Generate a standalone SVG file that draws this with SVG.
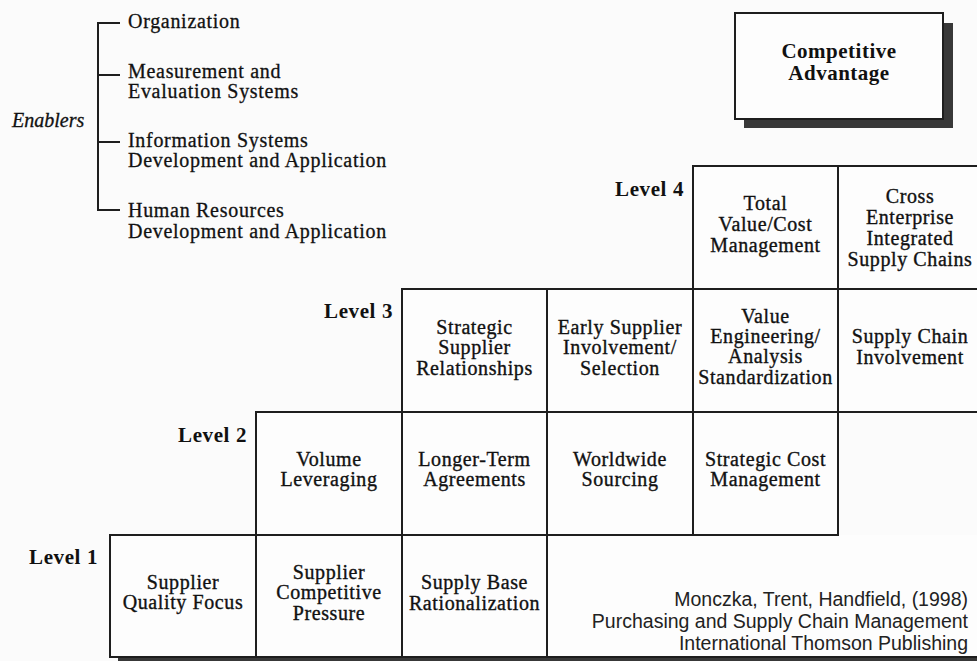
<svg xmlns="http://www.w3.org/2000/svg" width="977" height="661" viewBox="0 0 977 661">
<style>
.bg{fill:#fbfbfb}
.ln{stroke:#1e1e1e;stroke-width:2;fill:none}
.cell{fill:#fdfdfd;stroke:#1e1e1e;stroke-width:2}
.t{font-family:"Liberation Serif","Times New Roman",serif;font-size:20px;fill:#111;stroke:#111;stroke-width:0.35px;letter-spacing:0.6px;text-anchor:middle}
.en{font-family:"Liberation Serif","Times New Roman",serif;font-size:20px;fill:#111;stroke:#111;stroke-width:0.3px;letter-spacing:0.7px}
.it{font-family:"Liberation Serif","Times New Roman",serif;font-size:20px;font-style:italic;fill:#111;stroke:#111;stroke-width:0.3px}
.lv{font-family:"Liberation Serif","Times New Roman",serif;font-size:21px;font-weight:bold;fill:#111;letter-spacing:0.6px;text-anchor:end}
.ca{font-family:"Liberation Serif","Times New Roman",serif;font-size:21px;font-weight:bold;fill:#111;letter-spacing:0.5px;text-anchor:middle}
.cit{font-family:"Liberation Sans",Arial,sans-serif;font-size:19.5px;fill:#222;text-anchor:end}
.sh{fill:#383838}
</style>
<rect class="bg" x="0" y="0" width="977" height="661"/>

<g id="enablers">
  <text class="it" x="12" y="127">Enablers</text>
  <path class="ln" d="M120,23 H98 V210 H120 M98,75 H120 M98,142 H120"/>
  <text class="en" x="128" y="28">Organization</text>
  <text class="en" x="128" y="78">Measurement and</text>
  <text class="en" x="128" y="98">Evaluation Systems</text>
  <text class="en" x="128" y="147">Information Systems</text>
  <text class="en" x="128" y="167">Development and Application</text>
  <text class="en" x="128" y="217">Human Resources</text>
  <text class="en" x="128" y="238">Development and Application</text>
</g>

<g id="competitive-advantage">
  <rect class="sh" x="744" y="23" width="209" height="105"/>
  <rect class="cell" x="735" y="13" width="208" height="106"/>
  <text class="ca" x="839" y="58">Competitive</text>
  <text class="ca" x="839" y="80">Advantage</text>
</g>

<g id="labels">
  <text class="lv" x="684" y="196">Level 4</text>
  <text class="lv" x="393" y="318">Level 3</text>
  <text class="lv" x="247" y="442">Level 2</text>
  <text class="lv" x="98" y="564">Level 1</text>
</g>

<rect class="sh" x="118" y="657" width="870" height="8"/>

<g id="level1-remainder">
  <rect x="547" y="535" width="440" height="122" fill="#fdfdfd"/>
  <path class="ln" d="M547,535 V657 H990"/>
</g>

<g id="l4-total-value">
  <rect class="cell" x="693" y="166" width="145" height="123"/>
  <text class="t" x="765.5" y="210">Total</text>
  <text class="t" x="765.5" y="231">Value/Cost</text>
  <text class="t" x="765.5" y="252">Management</text>
</g>
<g id="l4-cross-enterprise">
  <rect class="cell" x="838" y="166" width="146" height="123"/>
  <text class="t" x="910" y="203">Cross</text>
  <text class="t" x="910" y="224">Enterprise</text>
  <text class="t" x="910" y="245">Integrated</text>
  <text class="t" x="910" y="266">Supply Chains</text>
</g>

<g id="l3-strategic-supplier">
  <rect class="cell" x="402" y="289" width="145" height="123"/>
  <text class="t" x="474.5" y="334">Strategic</text>
  <text class="t" x="474.5" y="354">Supplier</text>
  <text class="t" x="474.5" y="375">Relationships</text>
</g>
<g id="l3-early-supplier">
  <rect class="cell" x="547" y="289" width="146" height="123"/>
  <text class="t" x="620" y="334">Early Supplier</text>
  <text class="t" x="620" y="354">Involvement/</text>
  <text class="t" x="620" y="375">Selection</text>
</g>
<g id="l3-value-engineering">
  <rect class="cell" x="693" y="289" width="145" height="123"/>
  <text class="t" x="765.5" y="323">Value</text>
  <text class="t" x="765.5" y="343">Engineering/</text>
  <text class="t" x="765.5" y="363">Analysis</text>
  <text class="t" x="765.5" y="384">Standardization</text>
</g>
<g id="l3-supply-chain">
  <rect class="cell" x="838" y="289" width="146" height="123"/>
  <text class="t" x="910" y="343">Supply Chain</text>
  <text class="t" x="910" y="364">Involvement</text>
</g>

<g id="l2-volume">
  <rect class="cell" x="256" y="412" width="146" height="123"/>
  <text class="t" x="329" y="466">Volume</text>
  <text class="t" x="329" y="486">Leveraging</text>
</g>
<g id="l2-longer-term">
  <rect class="cell" x="402" y="412" width="145" height="123"/>
  <text class="t" x="474.5" y="466">Longer-Term</text>
  <text class="t" x="474.5" y="486">Agreements</text>
</g>
<g id="l2-worldwide">
  <rect class="cell" x="547" y="412" width="146" height="123"/>
  <text class="t" x="620" y="466">Worldwide</text>
  <text class="t" x="620" y="486">Sourcing</text>
</g>
<g id="l2-strategic-cost">
  <rect class="cell" x="693" y="412" width="145" height="123"/>
  <text class="t" x="765.5" y="466">Strategic Cost</text>
  <text class="t" x="765.5" y="486">Management</text>
</g>

<g id="l1-quality">
  <rect class="cell" x="110" y="535" width="146" height="122"/>
  <text class="t" x="183" y="589">Supplier</text>
  <text class="t" x="183" y="609">Quality Focus</text>
</g>
<g id="l1-competitive">
  <rect class="cell" x="256" y="535" width="146" height="122"/>
  <text class="t" x="329" y="579">Supplier</text>
  <text class="t" x="329" y="599">Competitive</text>
  <text class="t" x="329" y="620">Pressure</text>
</g>
<g id="l1-rationalization">
  <rect class="cell" x="402" y="535" width="145" height="122"/>
  <text class="t" x="474.5" y="589">Supply Base</text>
  <text class="t" x="474.5" y="610">Rationalization</text>
</g>

<g id="connectors"></g>

<g id="citation">
  <text class="cit" x="968" y="606">Monczka, Trent, Handfield, (1998)</text>
  <text class="cit" x="968" y="628">Purchasing and Supply Chain Management</text>
  <text class="cit" x="968" y="650">International Thomson Publishing</text>
</g>
</svg>
